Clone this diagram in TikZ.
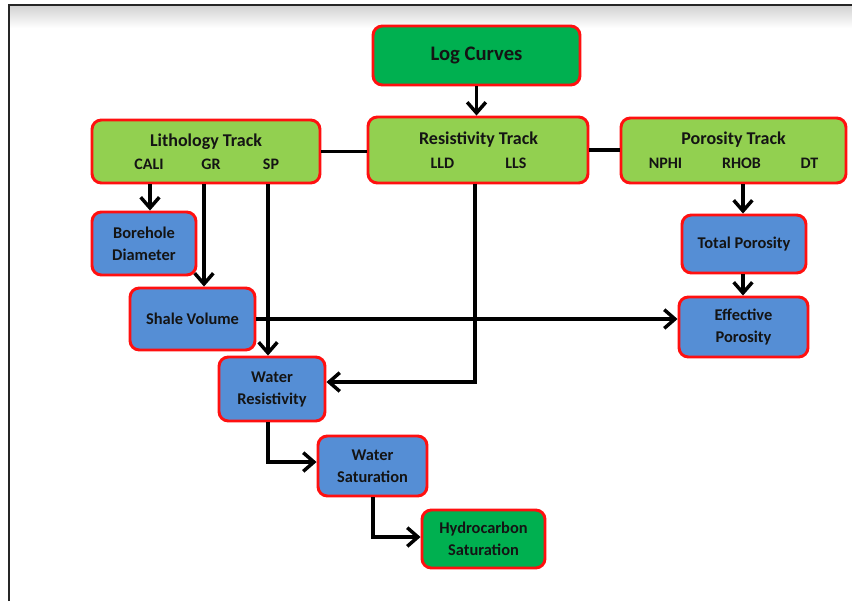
\documentclass[tikz,border=0pt]{standalone}
\usepackage{fontspec}
\setmainfont{Carlito}
\usetikzlibrary{arrows.meta}
\definecolor{dgreen}{HTML}{00B050}
\definecolor{lgreen}{HTML}{92D050}
\definecolor{bbox}{HTML}{558ED5}
\definecolor{bred}{HTML}{FF1010}
\definecolor{txt}{HTML}{141414}
\tikzset{
  sz/.style 2 args={minimum width=#1*0.75pt, minimum height=#2*0.75pt},
  basebox/.style={draw=bred, line width=2.2pt, rounded corners=7pt, inner sep=0pt, align=center, text=txt},
  logbox/.style={basebox, fill=dgreen, font=\bfseries\fontsize{15.5}{18}\selectfont},
  trackbox/.style={basebox, fill=lgreen},
  bluebox/.style={basebox, fill=bbox, font=\bfseries\fontsize{12.3}{16.5}\selectfont},
  greenbox/.style={basebox, fill=dgreen, font=\bfseries\fontsize{12.3}{16.5}\selectfont},
  ttitle/.style={text=txt, inner sep=0pt, font=\bfseries\fontsize{13.5}{15}\selectfont},
  tlabel/.style={text=txt, inner sep=0pt, font=\bfseries\fontsize{12}{14}\selectfont},
  conn/.style={line width=2.6pt, black},
  arr/.style={conn, -{Straight Barb[length=8pt,width=14pt]}},
}
\begin{document}
\begin{tikzpicture}[x=0.75pt,y=-0.75pt]
\useasboundingbox (0,0) rectangle (852,601);
\fill[white] (0,0) rectangle (852,601);
\shade[top color=black!18, bottom color=white] (9,5) rectangle (852,28);
\draw[line width=1.6pt, black!85] (9,601) -- (9,5) -- (852,5);

% main boxes
\node[logbox, sz={207}{59}] (log) at (476.5,55.5) {Log Curves};
\node[trackbox, sz={228}{63}] (lith) at (206,151.5) {};
\node[trackbox, sz={220}{66}] (res) at (478,150) {};
\node[trackbox, sz={225}{65}] (por) at (733.5,150.5) {};

% track texts
\node[ttitle] (lithT) at (206,142) {Lithology Track};
\node[tlabel] (cali) at (149,164) {CALI};
\node[tlabel] (gr) at (211,164) {GR};
\node[tlabel] (sp) at (271,164) {SP};
\node[ttitle] (resT) at (478.5,140) {Resistivity Track};
\node[tlabel] (lld) at (442.5,163) {LLD};
\node[tlabel] (lls) at (516,163) {LLS};
\node[ttitle] (porT) at (733.5,140) {Porosity Track};
\node[tlabel] (nphi) at (665.5,163) {NPHI};
\node[tlabel] (rhob) at (741.5,163) {RHOB};
\node[tlabel] (dt) at (809.5,163) {DT};

% result boxes
\node[bluebox, sz={104}{63}] (bore) at (144,243.5) {Borehole\\Diameter};
\node[bluebox, sz={125}{62}] (shale) at (192.5,319) {Shale Volume};
\node[bluebox, sz={106}{64}] (wres) at (272,389) {Water\\Resistivity};
\node[bluebox, sz={109}{60}] (wsat) at (372.5,466) {Water\\Saturation};
\node[greenbox, sz={123}{58}] (hc) at (483.5,539) {Hydrocarbon\\Saturation};
\node[bluebox, sz={124}{58}] (tp) at (744,244) {Total Porosity};
\node[bluebox, sz={129}{60}] (ep) at (743.5,327) {Effective\\Porosity};

% helper coordinates
\coordinate (grx) at (204,0);
\coordinate (spx) at (268,0);
\coordinate (resx) at (475,382);
\coordinate (calix) at (150,0);
\coordinate (porx) at (743,0);
\coordinate (wrx) at (268,462);
\coordinate (wsx) at (373,537);

% connectors
\draw[arr] (log.south) -- (log.south |- res.north);
\draw[conn] (lith.east) -- (lith.east -| res.west);
\draw[conn] (res.east) -- (res.east -| por.west);
\draw[arr] (lith.south -| calix) -- (bore.north -| calix);
\draw[arr] (lith.south -| grx) -- (shale.north -| grx);
\draw[arr] (lith.south -| spx) -- (wres.north -| spx);
\draw[arr] (res.south -| resx) |- (wres.east |- resx);
\draw[arr] (shale.east) -- (shale.east -| ep.west);
\draw[arr] (por.south -| porx) -- (tp.north -| porx);
\draw[arr] (tp.south -| porx) -- (ep.north -| porx);
\draw[arr] (wres.south -| wrx) |- (wsat.west |- wrx);
\draw[arr] (wsat.south -| wsx) |- (hc.west |- wsx);
\end{tikzpicture}
\end{document}
